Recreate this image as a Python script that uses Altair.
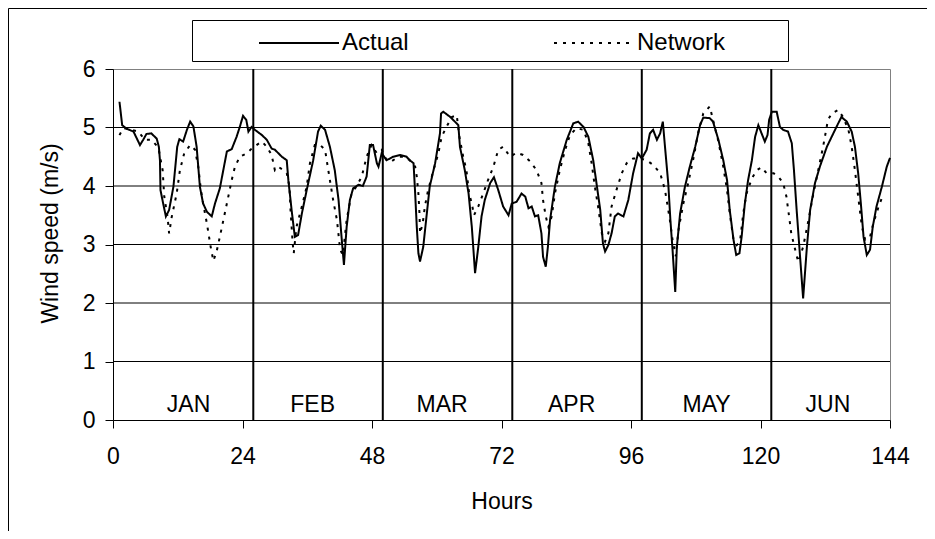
import altair as alt
import pandas as pd

# ---------------- data ----------------
actual_hours = [1.2, 1.5, 1.7, 2.5, 3.8, 5.0, 5.6, 6.2, 7.1, 8.1, 8.5, 8.7, 8.8, 9.3, 9.8, 10.4, 11.2, 11.9,
                12.3, 13.0, 13.7, 14.3, 14.9, 15.5, 16.1, 16.7, 17.4, 18.3, 18.9, 19.8, 21.1, 22.0, 22.9,
                23.5, 24.1, 24.7, 25.1, 25.7, 26.3, 27.6, 28.5, 29.4, 30.0, 31.3, 32.2, 32.5, 33.1, 33.7,
                34.3, 35.0, 35.9, 37.1, 38.0, 38.5, 39.3, 40.2, 41.1, 41.8, 42.4, 42.8, 43.3, 43.9, 44.5,
                45.5, 46.3, 47.0, 47.6, 48.2, 48.9, 49.2, 49.8, 50.7, 51.9, 53.2, 54.4, 55.0, 55.7, 56.0,
                56.3, 56.6, 56.9, 57.5, 58.1, 58.7, 59.7, 60.6, 60.8, 61.2, 62.5, 64.0, 64.3, 65.2, 65.9,
                66.5, 66.8, 67.1, 67.7, 68.3, 68.9, 69.9, 70.6, 71.4, 72.3, 73.3, 73.9, 74.8, 75.7, 76.4,
                77.0, 77.6, 78.2, 78.8, 79.4, 79.7, 80.2, 80.6, 81.0, 81.9, 82.8, 84.1, 85.3, 86.2, 87.2,
                88.1, 89.0, 89.6, 90.3, 90.8, 91.2, 91.8, 92.4, 93.0, 93.6, 94.6, 95.5, 96.4, 97.3, 98.0,
                98.9, 99.5, 100.1, 100.8, 101.4, 101.9, 102.3, 102.9, 103.3, 103.7, 104.2, 104.5, 105.1,
                106.0, 106.9, 107.9, 108.8, 109.4, 110.6, 111.2, 112.2, 113.1, 113.8, 114.3, 115.0, 115.5,
                116.1, 116.5, 117.1, 117.7, 118.4, 119.0, 119.6, 120.2, 120.8, 121.3, 121.6, 122.1, 123.0,
                123.6, 124.2, 125.1, 125.8, 126.2, 126.7, 127.2, 127.9, 128.6, 129.2, 130.1, 131.0, 132.3,
                133.5, 134.4, 135.0, 136.0, 136.9, 137.5, 138.1, 138.6, 139.1, 139.7, 140.3, 140.8, 141.5,
                142.5, 143.4, 144.0]
actual_speed = [5.44, 5.20, 5.04, 4.98, 4.93, 4.70, 4.79, 4.89, 4.90, 4.81, 4.67, 4.44, 3.93, 3.70, 3.48, 3.59,
                3.99, 4.67, 4.80, 4.76, 4.96, 5.10, 5.02, 4.67, 3.99, 3.70, 3.56, 3.48, 3.70, 3.96, 4.59, 4.63,
                4.84, 5.01, 5.20, 5.13, 4.93, 5.01, 4.96, 4.87, 4.79, 4.64, 4.62, 4.50, 4.44, 4.10, 3.59, 3.13,
                3.16, 3.53, 3.93, 4.44, 4.93, 5.03, 4.96, 4.67, 4.27, 3.76, 3.08, 2.65, 3.30, 3.76, 3.96, 4.02,
                4.00, 4.16, 4.70, 4.70, 4.39, 4.33, 4.56, 4.44, 4.50, 4.53, 4.50, 4.44, 4.39, 3.87, 3.30, 2.85,
                2.71, 2.96, 3.48, 3.99, 4.39, 4.90, 5.24, 5.27, 5.18, 5.04, 4.67, 4.27, 3.87, 3.30, 2.91, 2.51,
                2.96, 3.48, 3.76, 4.05, 4.15, 3.93, 3.65, 3.50, 3.70, 3.73, 3.87, 3.82, 3.62, 3.65, 3.48, 3.50,
                3.19, 2.79, 2.62, 2.96, 3.42, 3.99, 4.39, 4.79, 5.07, 5.10, 5.01, 4.84, 4.44, 4.05, 3.59, 3.02,
                2.88, 2.99, 3.19, 3.48, 3.53, 3.48, 3.76, 4.22, 4.56, 4.47, 4.62, 4.90, 4.96, 4.79, 4.90, 5.10,
                4.67, 4.05, 3.42, 2.91, 2.19, 2.96, 3.53, 3.99, 4.33, 4.67, 5.04, 5.17, 5.16, 5.10, 4.79, 4.44,
                4.10, 3.59, 3.08, 2.82, 2.85, 3.13, 3.70, 4.10, 4.44, 4.84, 5.04, 4.90, 4.76, 4.87, 5.13, 5.27,
                5.27, 5.01, 4.96, 4.93, 4.73, 4.27, 3.59, 2.96, 2.08, 2.96, 3.59, 4.05, 4.33, 4.67, 4.90, 5.07,
                5.18, 5.10, 4.93, 4.67, 4.22, 3.70, 3.13, 2.82, 2.91, 3.30, 3.65, 3.99, 4.33, 4.48]

network_hours = [1.2, 1.9, 3.5, 4.7, 5.9, 7.1, 8.4, 9.2, 9.5, 10.1, 10.4, 10.9, 11.8, 12.4, 13.2, 14.3, 15.2,
                 15.8, 16.3, 16.7, 17.4, 18.1, 18.6, 19.2, 19.8, 21.1, 22.0, 22.6, 23.5, 24.8, 25.7, 26.6,
                 27.6, 28.5, 29.4, 30.0, 30.6, 31.6, 32.2, 32.7, 32.9, 33.3, 33.5, 34.0, 35.0, 35.9, 36.5,
                 37.4, 38.4, 39.3, 39.9, 40.8, 41.5, 42.1, 42.6, 43.3, 44.2, 45.1, 46.1, 47.0, 47.9, 48.9,
                 49.8, 50.7, 51.6, 52.9, 54.1, 55.0, 56.0, 56.3, 56.6, 56.8, 56.9, 57.4, 57.8, 58.4, 59.4,
                 60.3, 60.9, 61.8, 62.8, 63.7, 64.2, 64.9, 65.5, 66.0, 66.5, 66.9, 67.7, 68.6, 69.5, 70.5,
                 71.4, 72.3, 73.6, 74.8, 76.0, 77.3, 78.5, 79.4, 79.7, 80.2, 80.7, 81.3, 81.9, 82.8, 83.8,
                 84.7, 85.9, 87.2, 88.1, 88.7, 89.3, 89.9, 90.6, 91.2, 91.8, 92.4, 93.3, 94.3, 95.2, 96.4,
                 97.7, 98.9, 100.1, 101.4, 102.3, 102.8, 103.2, 103.7, 104.3, 104.8, 105.7, 106.6, 107.5,
                 108.5, 109.4, 110.6, 111.2, 112.2, 113.1, 113.8, 114.3, 115.0, 115.6, 116.2, 116.8, 117.4,
                 118.4, 119.3, 120.2, 121.1, 122.4, 123.3, 124.2, 124.8, 125.3, 125.7, 126.3, 127.0, 127.9,
                 128.9, 129.8, 130.7, 131.6, 132.5, 133.2, 134.4, 135.3, 136.3, 136.9, 137.5, 138.1, 138.8,
                 139.4, 140.3, 140.9, 141.9, 142.8]
network_speed = [4.87, 4.99, 4.96, 4.93, 4.79, 4.79, 4.66, 4.27, 3.82, 3.48, 3.19, 3.48, 3.87, 4.27, 4.56, 4.70,
                 4.62, 4.33, 3.93, 3.70, 3.36, 2.96, 2.72, 2.88, 3.13, 3.70, 4.10, 4.33, 4.50, 4.56, 4.64, 4.70,
                 4.76, 4.67, 4.53, 4.27, 4.33, 4.27, 4.22, 3.99, 3.59, 3.02, 2.85, 3.30, 3.65, 3.99, 4.39, 4.70,
                 4.70, 4.62, 4.27, 3.76, 3.42, 2.91, 2.82, 3.42, 3.87, 3.99, 4.16, 4.50, 4.70, 4.56, 4.62, 4.44,
                 4.42, 4.50, 4.50, 4.44, 4.33, 4.16, 3.87, 3.53, 3.19, 3.36, 3.65, 3.93, 4.27, 4.56, 4.84, 5.01,
                 5.18, 5.21, 4.84, 4.50, 4.27, 3.87, 3.70, 3.50, 3.65, 3.87, 4.10, 4.33, 4.62, 4.67, 4.50, 4.57,
                 4.53, 4.42, 4.27, 4.05, 3.76, 3.48, 3.30, 3.48, 3.87, 4.27, 4.62, 4.87, 4.99, 4.96, 4.73, 4.39,
                 3.99, 3.65, 3.19, 3.05, 3.19, 3.65, 3.93, 4.22, 4.39, 4.47, 4.47, 4.44, 4.36, 4.22, 3.93, 3.65,
                 3.42, 3.08, 2.80, 3.25, 3.70, 4.05, 4.44, 4.93, 5.24, 5.36, 5.13, 4.76, 4.33, 3.93, 3.53, 3.08,
                 2.99, 3.05, 3.53, 3.87, 4.13, 4.27, 4.32, 4.22, 4.22, 4.16, 4.05, 3.82, 3.48, 3.19, 2.96, 2.70,
                 2.96, 3.42, 3.87, 4.27, 4.67, 5.13, 5.24, 5.30, 5.18, 4.96, 4.67, 4.27, 3.82, 3.30, 3.08, 3.13,
                 3.36, 3.65, 3.87]

series_names = ["Actual", "Network"]
month_names = ["JAN", "FEB", "MAR", "APR", "MAY", "JUN"]
month_label_hours = [14, 37, 61, 85, 110, 132.5]
month_boundaries = [26, 50, 74, 98, 122]
grid_levels = [1, 2, 3, 4, 5]
x_ticks = [0, 24, 48, 72, 96, 120, 144]
y_ticks = [0, 1, 2, 3, 4, 5, 6]

# ---------------- chart ----------------
FONT = "Liberation Sans"
FS = 23

df = pd.concat([
    pd.DataFrame({"hour": actual_hours, "speed": actual_speed, "series": series_names[0]}),
    pd.DataFrame({"hour": network_hours, "speed": network_speed, "series": series_names[1]}),
], ignore_index=True)

x_scale = alt.Scale(domain=[0, 144], nice=False, zero=False)
y_scale = alt.Scale(domain=[0, 6], nice=False)

x_axis = alt.Axis(values=x_ticks, tickSize=8, tickColor="black", domainColor="black",
                  labelFont=FONT, labelFontSize=FS, labelColor="black", labelPadding=17,
                  labelFlush=False, labelOverlap=False,
                  titleFont=FONT, titleFontSize=FS, titleColor="black", titleFontWeight="normal",
                  titleY=88.5, titleBaseline="alphabetic", grid=False)
y_axis = alt.Axis(values=y_ticks, tickSize=8, tickColor="black", domainColor="black",
                  labelFont=FONT, labelFontSize=FS, labelColor="black", labelPadding=10,
                  labelFlush=False, labelOverlap=False,
                  titleFont=FONT, titleFontSize=FS, titleColor="black", titleFontWeight="normal",
                  titleAngle=270, titleX=-56, titleY=164, titleBaseline="alphabetic",
                  titleAlign="center", grid=False)

X = lambda: alt.X("hour:Q", scale=x_scale, axis=x_axis, title="Hours")
Y = lambda: alt.Y("speed:Q", scale=y_scale, axis=y_axis, title="Wind speed (m/s)")

one = pd.DataFrame({"k": [0]})

outer_left = alt.Chart(one).mark_rule(color="black", strokeWidth=1).encode(
    x=alt.value(-104.5), y=alt.value(-60.5), y2=alt.value(462))
outer_top = alt.Chart(one).mark_rule(color="black", strokeWidth=1).encode(
    x=alt.value(-104.5), x2=alt.value(814), y=alt.value(-60.5))
legend_box = alt.Chart(one).mark_rect(fill="white", stroke="black", strokeWidth=1).encode(
    x=alt.value(79.5), x2=alt.value(675.5), y=alt.value(-48.5), y2=alt.value(-7.5))

grid = alt.Chart(pd.DataFrame({"speed": grid_levels})).mark_rule(
    color="black", strokeWidth=1).encode(y=Y())

months_rules = alt.Chart(pd.DataFrame({"hour": month_boundaries})).mark_rule(
    color="black", strokeWidth=2).encode(x=X())

month_text = alt.Chart(pd.DataFrame({"hour": month_label_hours, "name": month_names})).mark_text(
    font=FONT, fontSize=FS, color="black", baseline="alphabetic", align="center").encode(
    x=X(), y=alt.value(343), text="name:N")

lines = alt.Chart(df).mark_line(color="black", strokeWidth=2).encode(
    x=X(), y=Y(),
    strokeDash=alt.StrokeDash(
        "series:N",
        scale=alt.Scale(domain=series_names, range=[[1, 0], [3, 6]]),
        legend=alt.Legend(title=None, orient="none", legendX=145, legendY=-67,
                          direction="horizontal", columns=2, symbolType="stroke",
                          symbolSize=6400, symbolStrokeWidth=2, symbolStrokeColor="black",
                          labelFont=FONT, labelFontSize=24, labelColor="black", labelOffset=2,
                          columnPadding=141, padding=0)),
)

chart = alt.layer(outer_left, outer_top, legend_box, grid, months_rules, lines, month_text).properties(
    width=777, height=351,
    autosize=alt.AutoSizeParams(type="none"),
    padding={"left": 105, "top": 61, "right": 37, "bottom": 111},
    background="white",
).configure_view(stroke="#808080", strokeWidth=1)

chart.save("out.html", embed_options={"renderer": "svg", "actions": False})
